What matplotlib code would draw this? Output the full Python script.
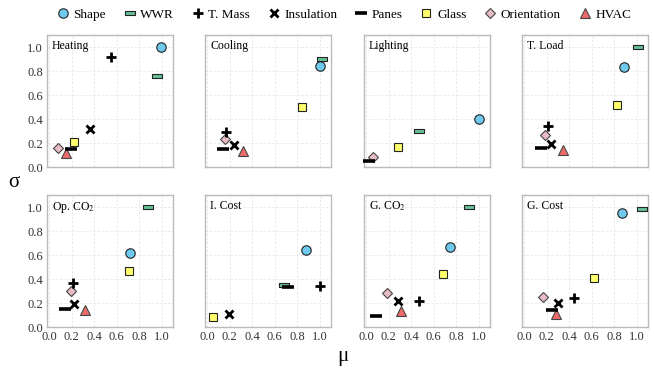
import numpy as np
import matplotlib
matplotlib.use("Agg")
import matplotlib.pyplot as plt
from matplotlib.lines import Line2D

plt.rcParams['font.family'] = ['Liberation Serif', 'DejaVu Serif']
plt.rcParams['mathtext.fontset'] = 'stix'

nan = np.nan
panels = ["Heating", "Cooling", "Lighting", "T. Load",
          "Op. CO$_2$", "I. Cost", "G. CO$_2$", "G. Cost"]
factors = ["Shape", "WWR", "T. Mass", "Insulation", "Panes", "Glass", "Orientation", "HVAC"]

# mu (x) per factor, per panel
mu = {
    "Shape":       [0.99, 1.00, 1.00, 0.89, 0.72, 0.88, 0.74, 0.87],
    "WWR":         [0.96, 1.02, 0.47, 1.01, 0.88, 0.68, 0.91, 1.05],
    "T. Mass":     [0.55, 0.17, nan,  0.21, 0.21, 1.00, 0.47, 0.44],
    "Insulation":  [0.36, 0.24, nan,  0.24, 0.22, 0.19, 0.28, 0.30],
    "Panes":       [0.19, 0.14, 0.02, 0.15, 0.14, 0.72, 0.09, 0.25],
    "Glass":       [0.22, 0.84, 0.28, 0.82, 0.71, 0.05, 0.68, 0.62],
    "Orientation": [0.08, 0.16, 0.06, 0.18, 0.19, nan,  0.18, 0.17],
    "HVAC":        [0.15, 0.32, nan,  0.34, 0.32, nan,  0.31, 0.28],
}
# sigma (y)
sigma = {
    "Shape":       [1.00, 0.84, 0.40, 0.83, 0.62, 0.64, 0.67, 0.95],
    "WWR":         [0.76, 0.90, 0.30, 1.00, 1.00, 0.35, 1.00, 0.98],
    "T. Mass":     [0.92, 0.29, nan,  0.34, 0.37, 0.34, 0.22, 0.24],
    "Insulation":  [0.32, 0.18, nan,  0.19, 0.19, 0.11, 0.22, 0.20],
    "Panes":       [0.15, 0.15, 0.05, 0.16, 0.15, 0.33, 0.09, 0.14],
    "Glass":       [0.21, 0.50, 0.17, 0.52, 0.47, 0.08, 0.44, 0.41],
    "Orientation": [0.16, 0.23, 0.08, 0.27, 0.30, nan,  0.28, 0.25],
    "HVAC":        [0.12, 0.13, nan,  0.14, 0.14, nan,  0.13, 0.11],
}

rect = [(-1, -0.38), (1, -0.38), (1, 0.38), (-1, 0.38), (-1, -0.38)]
styles = {
    "Shape":       dict(marker='o', ms=6.8, mfc='#6EC9EC', mec='#222222', mew=0.8, z=3),
    "WWR":         dict(marker=rect, ms=7.5, mfc='#64C195', mec='#222222', mew=0.8, z=3),
    "Glass":       dict(marker='s', ms=5.6, mfc='#FFFF6E', mec='#222222', mew=0.8, z=3),
    "Orientation": dict(marker='D', ms=5.6, mfc='#E8BCC4', mec='#444444', mew=0.8, z=3),
    "HVAC":        dict(marker='^', ms=6.8, mfc='#EE6B6B', mec='#444444', mew=0.8, z=3),
    "T. Mass":     dict(marker='+', ms=7, mfc='k', mec='k', mew=2.0, z=4),
    "Insulation":  dict(marker='x', ms=6, mfc='k', mec='k', mew=2.0, z=4),
    "Panes":       dict(marker='_', ms=8, mfc='k', mec='k', mew=2.6, z=4),
}
draw_order = ["Shape", "WWR", "Glass", "Orientation", "HVAC", "T. Mass", "Insulation", "Panes"]

fig = plt.figure(figsize=(6.54, 3.68), dpi=100)
W, H = 654, 368
lefts = [47, 205, 364, 522]
pw = 126
tops = [35, 195]
ph = 132

axes = []
for i, name in enumerate(panels):
    r, c = divmod(i, 4)
    ax = fig.add_axes([lefts[c] / W, 1 - (tops[r] + ph) / H, pw / W, ph / H])
    axes.append(ax)
    ax.set_xlim(-0.02, 1.1)
    ax.set_ylim(0, 1.1)
    ticks = np.arange(0, 1.01, 0.2)
    ax.set_xticks(ticks)
    ax.set_yticks(ticks)
    ax.grid(True, color='#E6E6E6', linestyle=(0, (3, 2)), linewidth=0.6)
    ax.set_axisbelow(True)
    for s in ax.spines.values():
        s.set_color('#BBBBBB')
        s.set_linewidth(1.0)
    ax.tick_params(length=0, labelsize=9, colors='#333333', pad=3)
    ax.set_xticklabels([f"{t:.1f}" for t in ticks])
    ax.set_yticklabels([f"{t:.1f}" for t in ticks])
    if r == 0:
        ax.tick_params(labelbottom=False)
    if c != 0:
        ax.tick_params(labelleft=False)
    ax.text(0.04, 0.965, name, transform=ax.transAxes, ha='left', va='top', fontsize=8.5)
    for f in draw_order:
        st = styles[f]
        ax.plot(mu[f][i], sigma[f][i], linestyle='none', marker=st['marker'], markersize=st['ms'],
                markerfacecolor=st['mfc'], markeredgecolor=st['mec'], markeredgewidth=st['mew'],
                zorder=st['z'], clip_on=False)

handles = []
for f in factors:
    st = styles[f]
    handles.append(Line2D([], [], linestyle='none', marker=st['marker'], markersize=st['ms'],
                          markerfacecolor=st['mfc'], markeredgecolor=st['mec'],
                          markeredgewidth=st['mew'], label=f))
fig.legend(handles=handles, loc='center', bbox_to_anchor=(343 / W, 1 - 15 / H), ncol=8,
           frameon=False, fontsize=9.5, handletextpad=0.2, columnspacing=1.2, handlelength=1.2)

fig.text(14 / W, 1 - 183 / H, 'σ', fontsize=15, ha='center', va='center')
fig.text(343 / W, 1 - 356 / H, 'μ', fontsize=15, ha='center', va='center')

fig.savefig('out.png', dpi=100)
